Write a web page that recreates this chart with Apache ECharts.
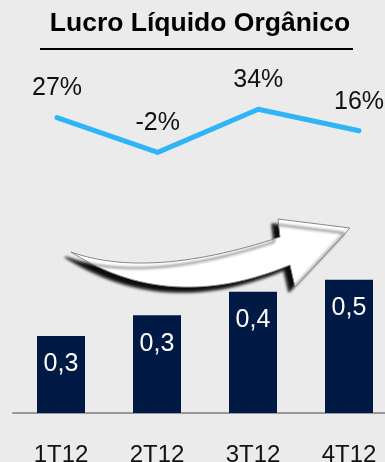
<!DOCTYPE html>
<html>
<head>
<meta charset="utf-8">
<script src="https://cdn.jsdelivr.net/npm/echarts@6/dist/echarts.min.js"></script>
<style>
  html, body { margin: 0; padding: 0; background: #ebebeb; }
  #chart { width: 385px; height: 462px; }
</style>
</head>
<body>
<div id="chart"></div>
<script>
// dados
const categories = ['1T12', '2T12', '3T12', '4T12']
const lucro = [0.26, 0.33, 0.41, 0.45]          // lucro liquido organico (R$ bi, estimado)
const lucroLabels = ['0,3', '0,3', '0,4', '0,5'] // rotulos das barras
const crescimento = [27, -2, 34, 16]              // variacao %

const myChart = echarts.init(document.getElementById('chart'))
const font = 'Liberation Sans, Arial, sans-serif'

// contorno da seta curva (curvas quadraticas amostradas)
function quad(p0, c, p1, n) {
  const pts = []
  for (let i = 0; i <= n; i++) {
    const t = i / n, u = 1 - t
    pts.push([u * u * p0[0] + 2 * u * t * c[0] + t * t * p1[0], u * u * p0[1] + 2 * u * t * c[1] + t * t * p1[1]])
  }
  return pts
}
const arrowPoints = [].concat(
  quad([71, 252], [150, 280], [280, 237], 30),
  [[278, 219], [350, 228], [295, 287]],
  quad([290, 265], [170, 315], [71, 252], 30)
)

const option = {
  backgroundColor: '#ebebeb',
  animation: false,
  grid: [
    { left: 13, width: 384, bottom: 49, height: 296, outerBoundsMode: 'none' }, // barras
    { left: 57, width: 302, top: 102, height: 60, outerBoundsMode: 'none' }     // linha
  ],
  xAxis: [
    {
      type: 'category', gridIndex: 0, data: categories,
      axisLine: { lineStyle: { color: '#999', width: 2 } },
      axisTick: { show: false },
      axisLabel: { color: '#111', fontSize: 24, fontFamily: font, margin: 30 }
    },
    {
      type: 'category', gridIndex: 1, data: categories, boundaryGap: false, show: false
    }
  ],
  yAxis: [
    { type: 'value', gridIndex: 0, min: 0, max: 1, show: false },
    { type: 'value', gridIndex: 1, min: -10, max: 40, show: false }
  ],
  series: [
    {
      type: 'bar', xAxisIndex: 0, yAxisIndex: 0,
      data: lucro,
      barWidth: 48,
      itemStyle: { color: '#011a45' },
      label: {
        show: true, position: 'insideTop', distance: 16,
        color: '#fff', fontSize: 25, fontFamily: font,
        formatter: p => lucroLabels[p.dataIndex]
      }
    },
    {
      type: 'line', xAxisIndex: 1, yAxisIndex: 1,
      data: crescimento,
      symbol: 'circle', symbolSize: 1,
      itemStyle: { color: '#2fb5f7' },
      lineStyle: { color: '#2fb5f7', width: 5, cap: 'round', join: 'round' },
      label: {
        show: true, position: 'top', distance: 16,
        color: '#111', fontSize: 25, fontFamily: font,
        formatter: p => p.value + '%'
      }
    }
  ],
  graphic: [
    {
      type: 'text', z: 10,
      style: {
        text: 'Lucro Líquido Orgânico', x: 200, y: 24,
        textAlign: 'center', textVerticalAlign: 'middle',
        fontSize: 26.5, fontWeight: 'bold', fontFamily: font, fill: '#000'
      }
    },
    {
      type: 'line', z: 10,
      shape: { x1: 40, y1: 49, x2: 353, y2: 49 },
      style: { stroke: '#000', lineWidth: 2 }
    },
    {
      // seta decorativa
      type: 'polygon', z: 20,
      shape: { points: arrowPoints },
      style: {
        fill: '#fff', stroke: '#888', lineWidth: 1,
        shadowColor: 'rgba(0,0,0,0.95)', shadowOffsetX: -6, shadowOffsetY: 5, shadowBlur: 3
      }
    }
  ]
}
myChart.setOption(option)
</script>
</body>
</html>
